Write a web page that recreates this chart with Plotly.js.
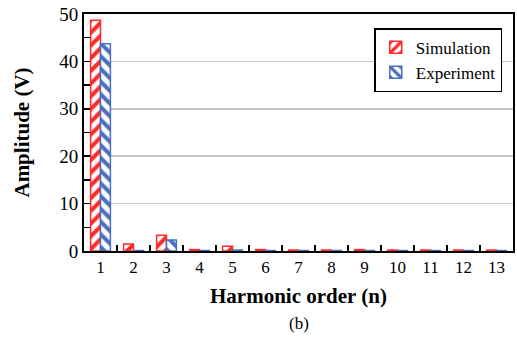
<!DOCTYPE html>
<html><head><meta charset="utf-8">
<script src="https://cdn.plot.ly/plotly-3.0.1.min.js"></script>
<style>body{margin:0;background:#fff}</style>
</head><body>
<div id="chart" style="width:517px;height:343px"></div>
<script>
const harmonics = ['1','2','3','4','5','6','7','8','9','10','11','12','13'];
const simulation = [48.7, 1.5, 3.3, 0.3, 1.0, 0.3, 0.2, 0.2, 0.3, 0.2, 0.2, 0.2, 0.2];
const experiment = [43.7, 0.1, 2.3, 0.1, 0.2, 0.1, 0.1, 0.1, 0.1, 0.1, 0.1, 0.1, 0.1];

const serif = 'Liberation Serif';
const traces = [
  {type:'bar', name:'Simulation', x:harmonics, y:simulation,
   marker:{color:'white', line:{color:'#FF2A2A', width:1.5},
     pattern:{shape:'/', fgcolor:'#FF2A2A', bgcolor:'white', size:9, solidity:0.45}}},
  {type:'bar', name:'Experiment', x:harmonics, y:experiment,
   marker:{color:'white', line:{color:'#4A6FC0', width:1.5},
     pattern:{shape:'\\', fgcolor:'#4A6FC0', bgcolor:'white', size:9, solidity:0.45}}}
];
const layout = {
  width:517, height:343,
  margin:{l:84, r:4, t:14, b:92},
  paper_bgcolor:'white', plot_bgcolor:'white',
  barmode:'group', bargap:0.4, bargroupgap:0,
  font:{family:serif, size:16, color:'black'},
  xaxis:{type:'category', tickson:'boundaries', ticks:'inside', ticklen:6, tickwidth:1.5, tickcolor:'black',
    showline:true, linecolor:'black', linewidth:2, mirror:true, showgrid:false,
    tickfont:{family:serif, size:17, color:'black'},
    title:{text:'<b>Harmonic order (n)</b>', font:{family:serif, size:21, color:'black'}, standoff:12}},
  yaxis:{range:[0,50], dtick:10, ticks:'inside', ticklen:6, tickwidth:1.5, tickcolor:'black',
    showline:true, linecolor:'black', linewidth:2, mirror:true,
    showgrid:true, gridcolor:'#C8C8C8', gridwidth:1.5, zeroline:false,
    minor:{dtick:5, ticks:'inside', ticklen:6, tickwidth:1.5, tickcolor:'black', showgrid:false},
    tickfont:{family:serif, size:19, color:'black'},
    title:{text:'<b>Amplitude (V)</b>', font:{family:serif, size:21, color:'black'}, standoff:24}},
  legend:{x:0.975, y:0.94, xanchor:'right', yanchor:'top', bordercolor:'black', borderwidth:1.5,
    bgcolor:'white', font:{family:serif, size:17, color:'black'}, traceorder:'normal', itemwidth:30,
    tracegroupgap:0},
  annotations:[{text:'(b)', xref:'paper', yref:'paper', x:0.5, y:-0.305, yanchor:'middle', showarrow:false,
    font:{family:serif, size:17, color:'black'}}]
};
Plotly.newPlot('chart', traces, layout, {staticPlot:true, displayModeBar:false});
</script>
</body></html>
